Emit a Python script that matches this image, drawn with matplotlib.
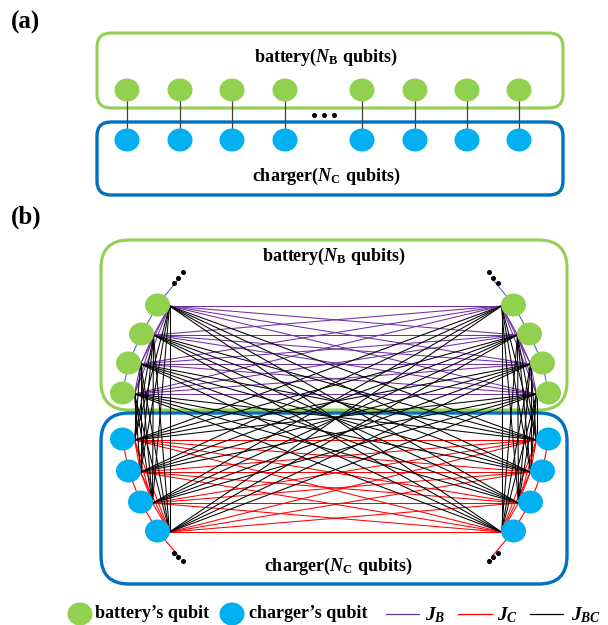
import matplotlib
matplotlib.use("Agg")
import matplotlib.pyplot as plt
from matplotlib.patches import FancyBboxPatch, Ellipse
import numpy as np

plt.rcParams['font.family'] = ['Liberation Serif', 'DejaVu Serif']
plt.rcParams['mathtext.fontset'] = 'custom'
plt.rcParams['mathtext.it'] = 'Liberation Serif:italic:bold'
plt.rcParams['mathtext.rm'] = 'Liberation Serif:bold'
plt.rcParams['mathtext.bf'] = 'Liberation Serif:bold'

# ---- content ----
panel_labels = ["(a)", "(b)"]
battery_label = r"battery($N_{\mathrm{B}}$ qubits)"
charger_label = r"charger($N_{\mathrm{C}}$ qubits)"
legend_labels = ["battery\u2019s qubit", "charger\u2019s qubit", r"$J_B$", r"$J_C$", r"$J_{BC}$"]
n_pairs_a = 8          # qubit pairs drawn in panel (a)
n_per_side_b = 4       # qubits drawn on each side of each group in panel (b)

# ---- styles ----
GREEN = "#92d050"
BLUE_FILL = "#00b0f0"
BLUE_BOX = "#0070c0"
PURPLE = "#7030a0"
RED = "#ff0000"
CHAIN_BLUE = "#4472c4"

fig = plt.figure(figsize=(6.08, 6.25), dpi=100)
ax = fig.add_axes([0, 0, 1, 1])
ax.set_xlim(0, 608)
ax.set_ylim(625, 0)
ax.axis("off")

def rbox(x0, y0, x1, y1, color, r, lw, z=1):
    p = FancyBboxPatch((x0, y0), x1 - x0, y1 - y0,
                       boxstyle=f"round,pad=0,rounding_size={r}",
                       fc="none", ec=color, lw=lw, zorder=z)
    ax.add_patch(p)

def node(x, y, color, w=25, h=23, z=5):
    ax.add_patch(Ellipse((x, y), w, h, fc=color, ec="none", zorder=z))

def dots(pts):
    for (x, y) in pts:
        ax.plot(x, y, "o", color="black", ms=2.6, zorder=6)

# ================= panel (a) =================
ax.text(11, 22, panel_labels[0], fontsize=18, fontweight="bold", va="center", ha="left")
rbox(97, 33, 563, 108, GREEN, 14, 2.2)
rbox(97, 122, 563, 195, BLUE_BOX, 14, 2.4)
ax.text(326, 57, battery_label, fontsize=13, fontweight="bold", ha="center", va="center")
ax.text(326, 176, charger_label, fontsize=13, fontweight="bold", ha="center", va="center")
xa = [127, 180, 232, 285, 362, 415, 467, 519]
for i in range(n_pairs_a):
    ax.plot([xa[i], xa[i]], [90, 140], color="#404040", lw=0.9, zorder=2)
    node(xa[i], 90, GREEN)
    node(xa[i], 140, BLUE_FILL)
dots([(314, 115), (324, 115), (334, 115)])

# ================= panel (b) =================
ax.text(11, 217, panel_labels[1], fontsize=18, fontweight="bold", va="center", ha="left")
rbox(101, 240, 567, 410, GREEN, 28, 2.2)
rbox(101, 413, 567, 584, BLUE_BOX, 28, 2.4)
ax.text(334, 256, battery_label, fontsize=13, fontweight="bold", ha="center", va="center")
ax.text(338, 566, charger_label, fontsize=13, fontweight="bold", ha="center", va="center")

cx = 335.5
g_y = [305, 334, 363, 393]
g_dx = [178, 194, 207, 213]     # distance from centre line
b_y = [439, 471, 502, 531]
b_dx = [213, 207, 195, 178]

green_nodes = []
blue_nodes = []
for side in (-1, 1):
    for i in range(n_per_side_b):
        green_nodes.append((cx + side * g_dx[i], g_y[i], side))
        blue_nodes.append((cx + side * b_dx[i], b_y[i], side))

def anchor(n):
    x, y, side = n
    return (x - side * 12, y + 1)

# chain lines + dots
for side in (-1, 1):
    gs = [n for n in green_nodes if n[2] == side]
    bs = [n for n in blue_nodes if n[2] == side]
    top = (cx + side * 157, 279)
    bot = (cx + side * 157, 556)
    xs = [top[0]] + [n[0] for n in gs]
    ys = [top[1]] + [n[1] for n in gs]
    ax.plot(xs, ys, color=CHAIN_BLUE, lw=0.8, zorder=2)
    xs = [n[0] for n in bs] + [bot[0]]
    ys = [n[1] for n in bs] + [bot[1]]
    ax.plot(xs, ys, color=RED, lw=0.8, zorder=2)
    dots([(cx + side * 162, 283), (cx + side * 157.5, 277.5), (cx + side * 153, 272)])
    dots([(cx + side * 162, 552.5), (cx + side * 157.5, 556.7), (cx + side * 153, 561)])

# couplings
for i in range(len(green_nodes)):
    for j in range(i + 1, len(green_nodes)):
        a, b = anchor(green_nodes[i]), anchor(green_nodes[j])
        ax.plot([a[0], b[0]], [a[1], b[1]], color=PURPLE, lw=0.75, zorder=3)
for i in range(len(blue_nodes)):
    for j in range(i + 1, len(blue_nodes)):
        a, b = anchor(blue_nodes[i]), anchor(blue_nodes[j])
        ax.plot([a[0], b[0]], [a[1], b[1]], color=RED, lw=0.75, zorder=3)
for g in green_nodes:
    for c in blue_nodes:
        a, b = anchor(g), anchor(c)
        ax.plot([a[0], b[0]], [a[1], b[1]], color="black", lw=0.75, zorder=4)

for n in green_nodes:
    node(n[0], n[1], GREEN)
for n in blue_nodes:
    node(n[0], n[1], BLUE_FILL)

# ================= legend =================
ly = 614
node(80, ly, GREEN, 25, 23)
ax.text(95, ly, legend_labels[0], fontsize=13, fontweight="bold", ha="left", va="center")
node(232, ly, BLUE_FILL, 25, 23)
ax.text(249, ly, legend_labels[1], fontsize=13, fontweight="bold", ha="left", va="center")
for (x0, x1, tx, col, lab) in [(386, 419, 425, PURPLE, legend_labels[2]),
                               (458, 492, 497, RED, legend_labels[3]),
                               (530, 563, 571, "black", legend_labels[4])]:
    ax.plot([x0, x1], [ly, ly], color=col, lw=0.9)
    ax.text(tx, ly + 1, lab, fontsize=14, ha="left", va="center")

fig.savefig("out.png", dpi=100)
